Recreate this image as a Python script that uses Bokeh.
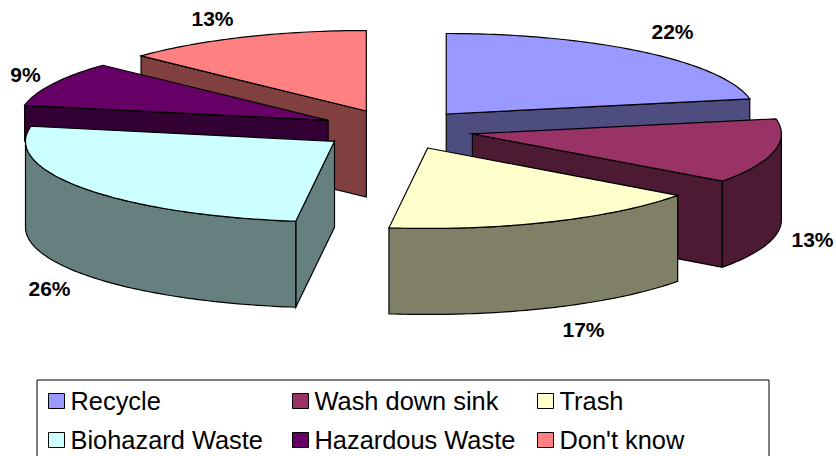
import numpy as np
from bokeh.plotting import figure
from bokeh.models import Range1d
from bokeh.core.properties import value
from bokeh.embed import file_html
from bokeh.resources import INLINE

# Shares of each disposal route, in percent, clockwise from twelve o'clock
categories = ["Recycle", "Wash down sink", "Trash", "Biohazard Waste", "Hazardous Waste", "Don't know"]
shares = [22, 13, 17, 26, 9, 13]
top_colors = ["#9999FF", "#993366", "#FFFFCC", "#CCFFFF", "#660066", "#FF8080"]
side_colors = ["#4D4D80", "#4D1A33", "#808066", "#668080", "#330033", "#804040"]
share_label_xy = [(672, 31), (812, 239), (583, 329), (49, 288), (25, 74), (212, 18)]

# Projection of the tilted pie onto the page (page pixels, y downward)
CENTER_X, CENTER_Y = 396.5, 129.0
RADIUS_X, RADIUS_Y = 309.0, 80.5
DEPTH = 86.0
EXPLODE = 0.25
# The cut face of Hazardous Waste disappears behind Biohazard Waste, so only its upper part is drawn
CUT_FACE_DEPTH = {"Hazardous Waste": 36.0}

FONT = value("Liberation Sans")

p = figure(width=836, height=456, x_range=Range1d(0, 836), y_range=Range1d(456, 0),
           x_axis_type=None, y_axis_type=None, toolbar_location=None,
           output_backend="svg", min_border=0, outline_line_color=None,
           background_fill_color="white", border_fill_color="white")
p.grid.visible = False

edges = np.radians(np.concatenate([[0], np.cumsum(shares)]) * 3.6)
slices = []
for i, share in enumerate(shares):
    t0, t1 = edges[i], edges[i + 1]
    mid = (t0 + t1) / 2
    cx = CENTER_X + EXPLODE * RADIUS_X * np.sin(mid)
    cy = CENTER_Y - EXPLODE * RADIUS_Y * np.cos(mid)
    slices.append((i, t0, t1, cx, cy))


def rim(cx, cy, a, b, drop=0.0):
    t = np.linspace(a, b, max(2, int(np.degrees(b - a)) + 2))
    return cx + RADIUS_X * np.sin(t), cy - RADIUS_Y * np.cos(t) + drop


def face(x, y, color):
    p.patch(x, y, fill_color=color, line_color="black", line_width=1.2, line_join="miter")


# Slices are painted from the back of the pie to the front
for i, t0, t1, cx, cy in sorted(slices, key=lambda s: (s[4], -s[3])):
    side = side_colors[i]
    # Radial cut faces that turn toward the viewer
    cut_depth = CUT_FACE_DEPTH.get(categories[i], DEPTH)
    for t, visible in ((t0, np.sin(t0) < -1e-6), (t1, np.sin(t1) > 1e-6)):
        if visible:
            ex, ey = cx + RADIUS_X * np.sin(t), cy - RADIUS_Y * np.cos(t)
            face([cx, ex, ex, cx], [cy, ey, ey + cut_depth, cy + cut_depth], side)
    # Outer wall along the front half of the rim
    a, b = max(t0, np.pi / 2), min(t1, 3 * np.pi / 2)
    if a < b:
        ux, uy = rim(cx, cy, a, b)
        lx, ly = rim(cx, cy, a, b, DEPTH)
        face(np.concatenate([ux, lx[::-1]]), np.concatenate([uy, ly[::-1]]), side)
    # Top surface
    ux, uy = rim(cx, cy, t0, t1)
    face(np.concatenate([[cx], ux]), np.concatenate([[cy], uy]), top_colors[i])

# Percentage labels around the pie
p.text(x=[xy[0] for xy in share_label_xy], y=[xy[1] for xy in share_label_xy],
       text=[f"{s}%" for s in shares], text_font=FONT, text_font_style="bold",
       text_font_size="21px", text_color="black", text_align="center", text_baseline="middle")

# Legend: two rows of three entries inside a frame that runs off the page bottom
p.quad(left=[36.5], right=[768.5], top=[379.5], bottom=[460], fill_color="white",
       line_color="black", line_width=1)
col_x = [48, 292, 537]
row_y = [393, 432]
for i, name in enumerate(categories):
    sx, sy = col_x[i % 3], row_y[i // 3]
    p.quad(left=[sx], right=[sx + 16], top=[sy], bottom=[sy + 15], fill_color=top_colors[i],
           line_color="black", line_width=1)
    p.text(x=[sx + 22], y=[sy + 7], text=[name], text_font=FONT, text_font_size="25.4px",
           text_color="black", text_align="left", text_baseline="middle")

open("out.html", "w").write(file_html(p, INLINE))
